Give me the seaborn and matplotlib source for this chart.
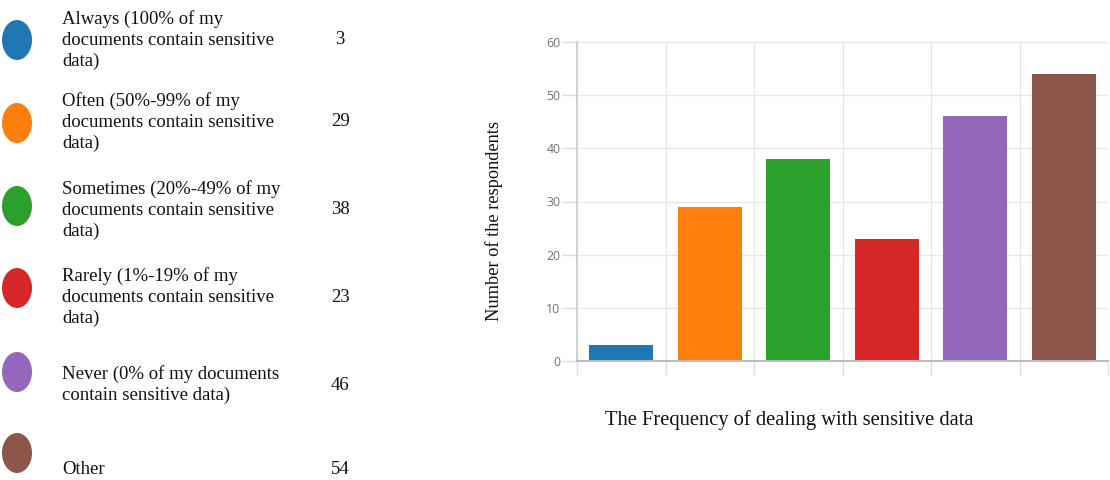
import matplotlib
matplotlib.use("Agg")
import matplotlib.pyplot as plt
from matplotlib.patches import Ellipse
import seaborn as sns
import pandas as pd

# Survey answers: how often respondents deal with sensitive data
categories = ["Always", "Often", "Sometimes", "Rarely", "Never", "Other"]
legend_labels = [
    "Always (100% of my\ndocuments contain sensitive\ndata)",
    "Often (50%-99% of my\ndocuments contain sensitive\ndata)",
    "Sometimes (20%-49% of my\ndocuments contain sensitive\ndata)",
    "Rarely (1%-19% of my\ndocuments contain sensitive\ndata)",
    "Never (0% of my documents\ncontain sensitive data)",
    "Other",
]
respondents = [3, 29, 38, 23, 46, 54]
yticks = [0, 10, 20, 30, 40, 50, 60]

colors = ["#1f77b4", "#ff7f0e", "#2ca02c", "#d62728", "#9467bd", "#8c564b"]

sns.set_theme(style="white")
serif = ["Liberation Serif", "DejaVu Serif"]

W, H = 1110, 480
fig = plt.figure(figsize=(W / 100, H / 100), dpi=100)

# ---- bar chart on the right ----
x0, x1, ytop, ybot = 577, 1108, 42, 361
ax = fig.add_axes([x0 / W, 1 - ybot / H, (x1 - x0) / W, (ybot - ytop) / H])

df = pd.DataFrame({"category": categories, "respondents": respondents})
sns.barplot(data=df, x="category", y="respondents", hue="category",
            palette=colors, width=0.72, legend=False, ax=ax,
            edgecolor="none", saturation=1)

ax.set_xlim(-0.5, 5.5)
ax.set_ylim(0, 60)
ax.set_yticks(yticks)
ax.set_yticklabels([str(t) for t in yticks], color="#707070", fontsize=8.8,
                   family="Open Sans")
ax.set_xticks([])
ax.set_xticks([i - 0.5 for i in range(len(categories) + 1)], minor=True)
ax.tick_params(axis="x", which="minor", length=10, width=1, color="#dddddd",
               direction="out", bottom=True)
ax.tick_params(axis="y", which="major", length=11, width=1, color="#dddddd",
               direction="out", pad=1, left=True)
ax.grid(axis="y", which="major", color="#e8e8e8", linewidth=1)
ax.grid(axis="x", which="minor", color="#e8e8e8", linewidth=1)
ax.set_axisbelow(True)
for side in ("top", "right"):
    ax.spines[side].set_visible(False)
ax.spines["left"].set_color("#cccccc")
ax.spines["bottom"].set_color("#bbbbbb")
ax.spines["bottom"].set_linewidth(1.5)
ax.set_xlabel("")
ax.set_ylabel("")

fig.text(789 / W, 1 - 420 / H, "The Frequency of dealing with sensitive data",
         ha="center", va="center", fontsize=14.8, family=serif, color="#111111")
fig.text(494 / W, 1 - 221 / H, "Number of the respondents", rotation=90,
         ha="center", va="center", fontsize=13.2, family=serif, color="#111111")

# ---- legend table on the left ----
marker_y = [40, 123, 206, 288, 372, 453]
text_y = [40, 122, 210, 297, 385, 469]
for label, value, color, my, ty in zip(legend_labels, respondents, colors,
                                       marker_y, text_y):
    fig.patches.append(Ellipse((17 / W, 1 - my / H), 30 / W, 40 / H,
                               transform=fig.transFigure, facecolor=color,
                               edgecolor="none"))
    fig.text(62 / W, 1 - ty / H, label, ha="left", va="center",
             fontsize=13.5, family=serif, linespacing=1.28, color="#111111")
    fig.text(340 / W, 1 - ty / H, str(value), ha="center", va="center",
             fontsize=13.5, family=serif, color="#111111")

fig.savefig("out.png", dpi=100, facecolor="white")
